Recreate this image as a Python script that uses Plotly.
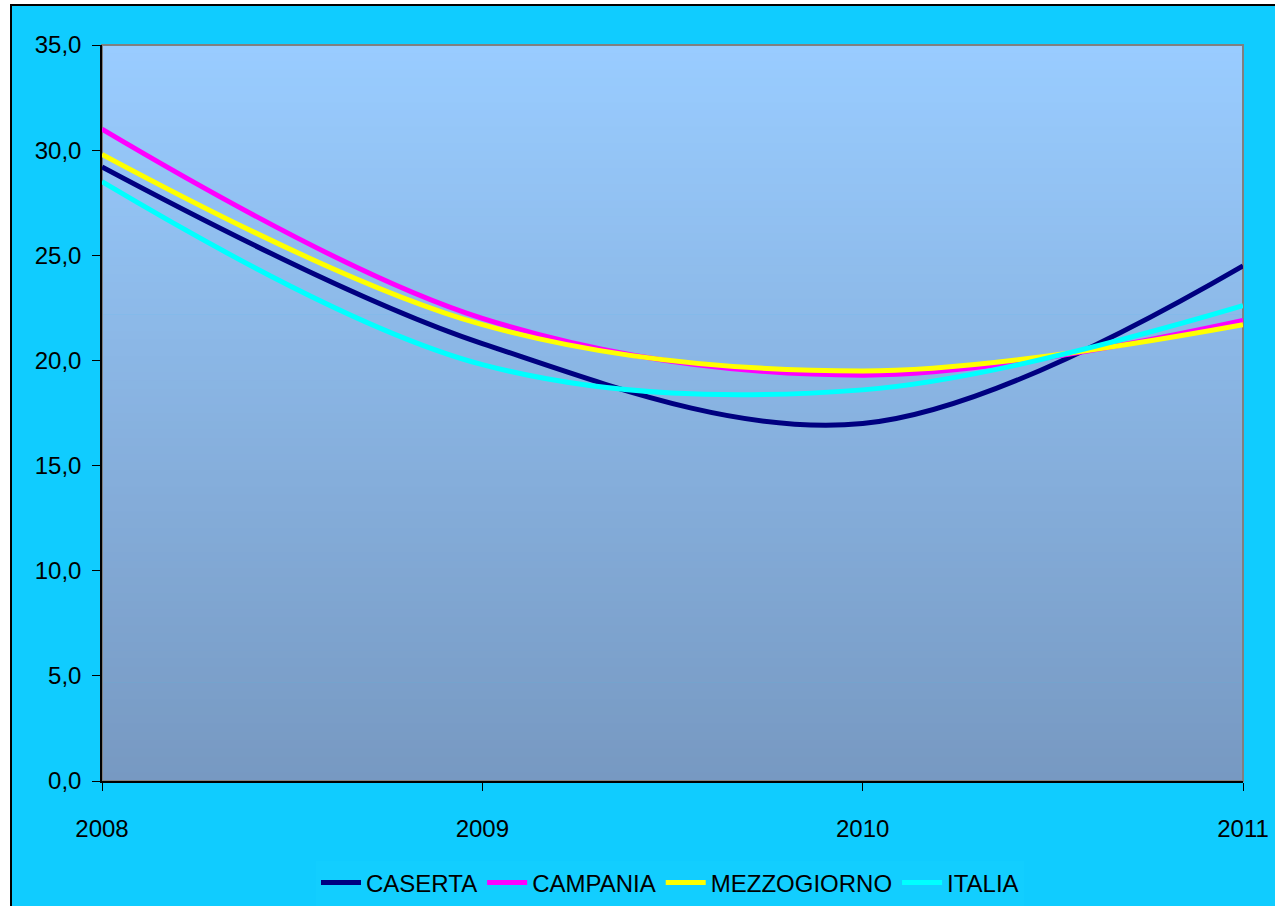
import plotly.graph_objects as go

years = [2008, 2009, 2010, 2011]
caserta = [29.2, 20.8, 17.0, 24.5]
campania = [31.0, 22.0, 19.3, 21.9]
mezzogiorno = [29.8, 21.7, 19.5, 21.7]
italia = [28.5, 19.8, 18.6, 22.6]

series = [
    ("CASERTA", caserta, "#000080"),
    ("CAMPANIA", campania, "#FF00FF"),
    ("MEZZOGIORNO", mezzogiorno, "#FFFF00"),
    ("ITALIA", italia, "#00FFFF"),
]

W, H = 1275, 906
L, T = 102, 45
R = W - 1243
B = H - 781
pw, ph = W - L - R, H - T - B

def px2x(p):
    return (p - L) / pw

def py2y(p):
    return (H - B - p) / ph

fig = go.Figure()
for name, vals, col in series:
    fig.add_trace(go.Scatter(x=years, y=vals, name=name, mode="lines",
                             line=dict(color=col, width=5, shape="spline", smoothing=1)))

shapes = []
shapes.append(dict(type="rect", xref="paper", yref="paper", layer="below",
                   x0=px2x(11), x1=px2x(1300), y0=py2y(5), y1=py2y(940),
                   fillcolor="#10CCFF", line=dict(color="black", width=2)))
n = 90
top = (153, 204, 255)
bot = (119, 153, 194)
for i in range(n):
    t = i / (n - 1)
    c = tuple(int(round(bot[k] + (top[k] - bot[k]) * t)) for k in range(3))
    shapes.append(dict(type="rect", xref="paper", yref="paper", layer="below",
                       x0=0, x1=1, y0=i / n, y1=(i + 1) / n + 0.001,
                       fillcolor="rgb(%d,%d,%d)" % c, line=dict(width=0)))
shapes.append(dict(type="rect", xref="paper", yref="paper", layer="below",
                   x0=0, x1=1, y0=0, y1=1, line=dict(color="#808080", width=2)))

fig.update_layout(
    width=W, height=H,
    margin=dict(l=L, r=R, t=T, b=B, autoexpand=False),
    paper_bgcolor="white",
    plot_bgcolor="rgba(0,0,0,0)",
    separators=",.",
    font=dict(family="Liberation Sans, Arial, sans-serif", size=24, color="black"),
    shapes=shapes,
    showlegend=True,
    legend=dict(orientation="h", x=px2x(670), xanchor="center",
                yref="container", y=(H - 883) / H, yanchor="middle",
                bgcolor="#12CEFF", font=dict(size=24), itemwidth=40, tracegroupgap=0),
    xaxis=dict(range=[2008, 2011], tickvals=years, ticktext=[str(y) for y in years],
               showgrid=False, zeroline=False, showline=True, linecolor="black", linewidth=1.5,
               ticks="outside", ticklen=8, tickcolor="black", ticklabelstandoff=17,
               ticklabeloverflow="allow", automargin=False),
    yaxis=dict(range=[0, 35], dtick=5, tickformat=".1f",
               showgrid=False, zeroline=False, showline=True, linecolor="black", linewidth=1.5,
               ticks="outside", ticklen=8, tickcolor="black", ticklabelstandoff=6,
               automargin=False),
)

fig.write_html(
    "out.html",
    config={"displayModeBar": False},
    post_script="document.body.style.margin='0';document.body.style.overflow='hidden';",
)
